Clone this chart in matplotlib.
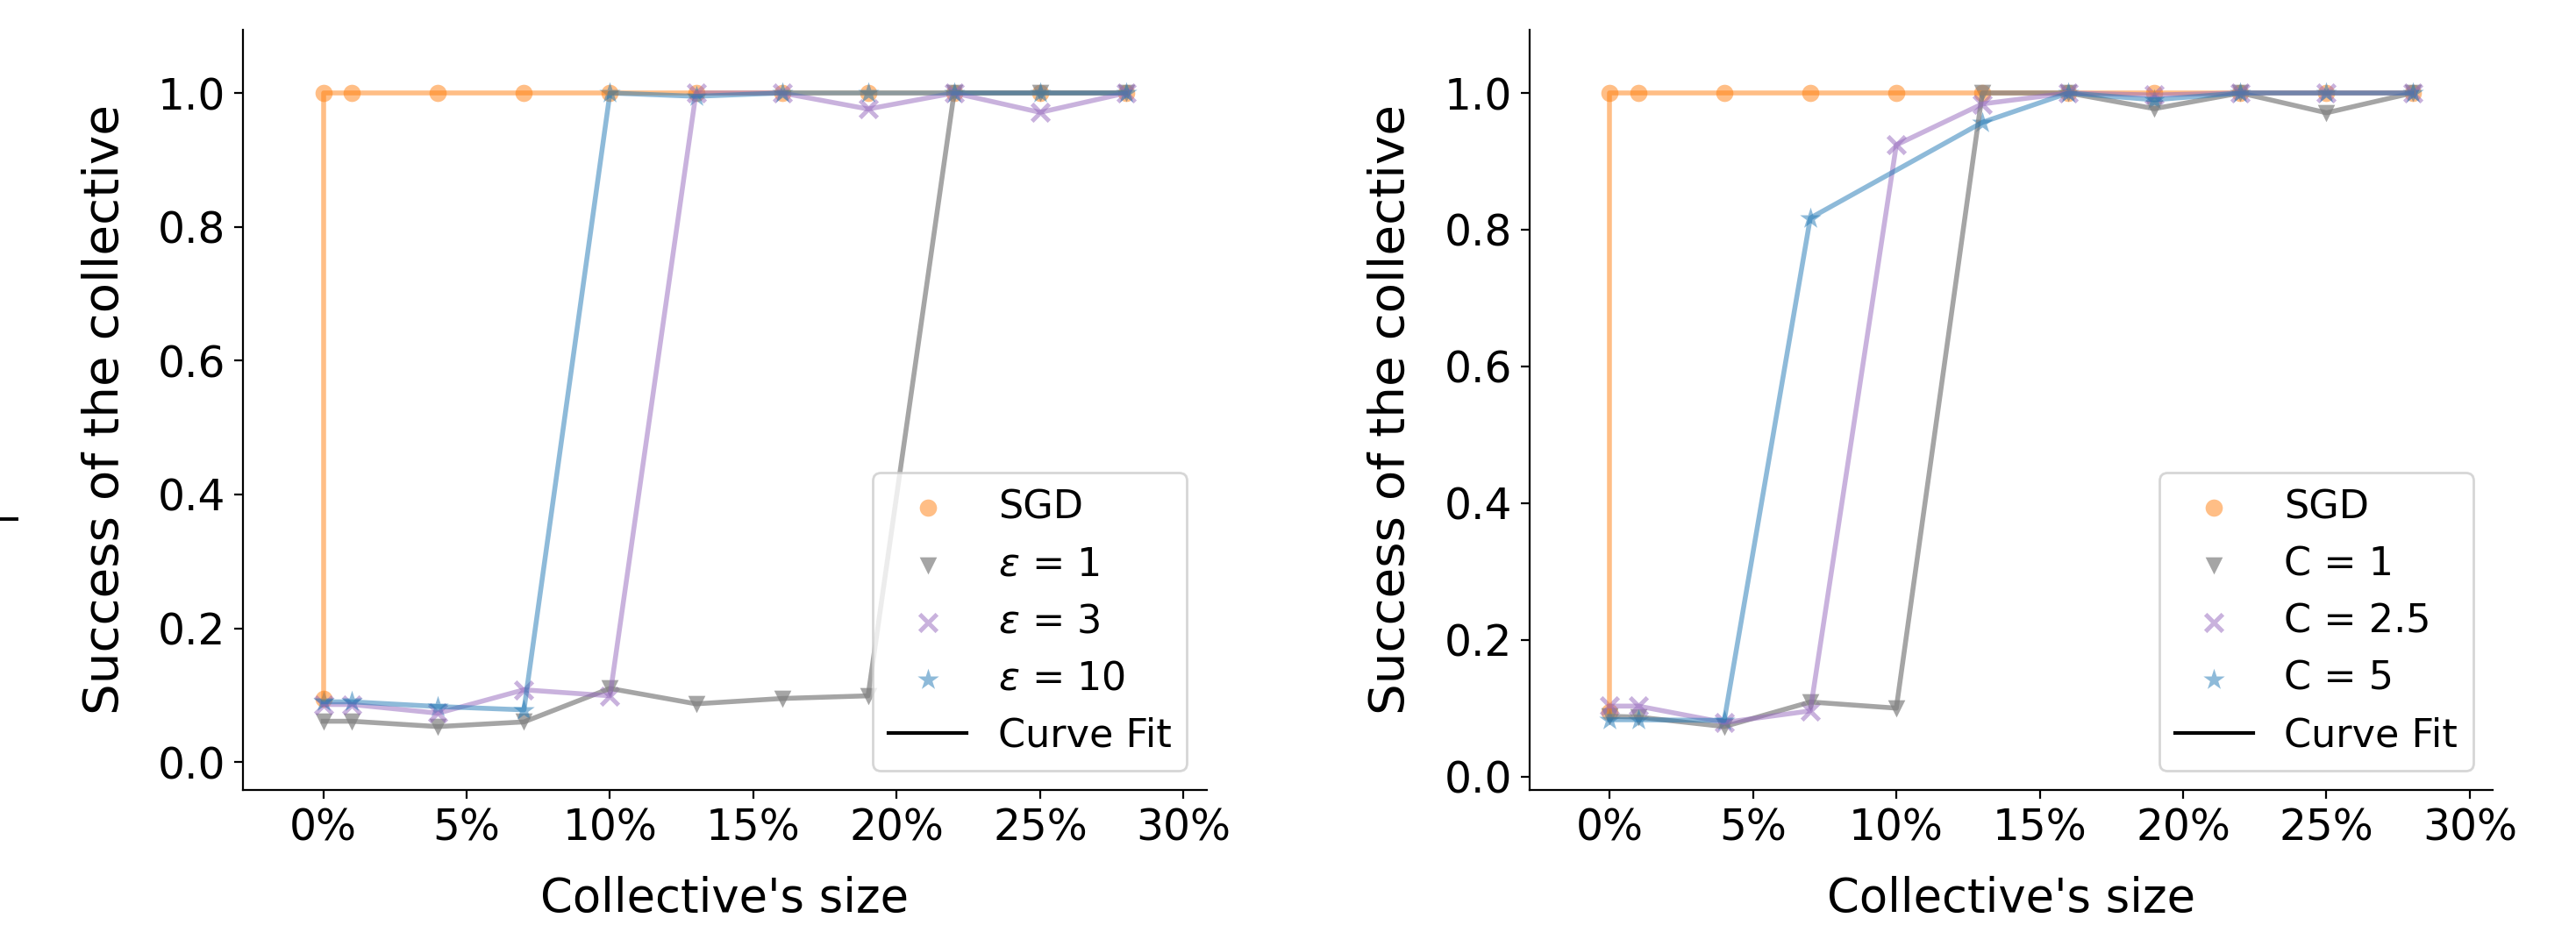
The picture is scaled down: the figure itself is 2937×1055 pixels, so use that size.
import numpy as np
import matplotlib
matplotlib.use("Agg")
import matplotlib.pyplot as plt
from matplotlib.lines import Line2D
from matplotlib.ticker import PercentFormatter

# Collective's size (in %)
sizes = [0, 1, 4, 7, 10, 13, 16, 19, 22, 25, 28]
sgd_sizes = [0, 0, 1, 4, 7, 10, 13, 16, 19, 22, 25, 28]
sgd_success = [0.095, 1.0, 1.0, 1.0, 1.0, 1.0, 1.0, 1.0, 1.0, 1.0, 1.0, 1.0]

# left panel: epsilon
eps_labels = [r'$\varepsilon$ = 1', r'$\varepsilon$ = 3', r'$\varepsilon$ = 10']
eps_1 = [0.061, 0.061, 0.053, 0.060, 0.110, 0.087, 0.095, 0.099, 1.0, 1.0, 1.0]
eps_3 = [0.086, 0.086, 0.073, 0.108, 0.099, 1.0, 1.0, 0.976, 1.0, 0.971, 1.0]
eps_10 = [0.090, 0.090, 0.083, 0.078, 1.0, 0.995, 1.0, 1.0, 1.0, 1.0, 1.0]

# right panel: clipping C
c_labels = ['C = 1', 'C = 2.5', 'C = 5']
c_1 = [0.088, 0.087, 0.073, 0.109, 0.100, 1.0, 1.0, 0.977, 1.0, 0.971, 1.0]
c_2_5 = [0.103, 0.103, 0.079, 0.096, 0.924, 0.984, 1.0, 0.997, 1.0, 1.0, 1.0]
c_5_sizes = [0, 1, 4, 7, 13, 16, 19, 22, 25, 28]
c_5 = [0.083, 0.083, 0.082, 0.817, 0.957, 1.0, 0.990, 1.0, 1.0, 1.0]

x_ticks = [0, 5, 10, 15, 20, 25, 30]

colors = ['tab:gray', 'tab:purple', 'tab:blue']
alphas = [0.7, 0.5, 0.5]
markers = ['v', 'x', '*']
msizes = [50, 50, 85]

TICK_FS = 17.5
XLABEL_FS = 19
YLABEL_FS = 20.3
LEGEND_FS = 16

fig, axes = plt.subplots(1, 2, figsize=(14.685, 5.275), dpi=200)
fig.subplots_adjust(left=0.0943, right=0.9677, bottom=0.146, top=0.968, wspace=0.335)

panels = [
    (axes[0], eps_labels, [(sizes, eps_1), (sizes, eps_3), (sizes, eps_10)]),
    (axes[1], c_labels, [(sizes, c_1), (sizes, c_2_5), (c_5_sizes, c_5)]),
]

for ax, labels, series in panels:
    handles = []
    # SGD baseline
    ax.plot(sgd_sizes, sgd_success, color='tab:orange', alpha=0.5, lw=2.0)
    h = ax.scatter(sgd_sizes, sgd_success, color='tab:orange', alpha=0.5,
                   marker='o', s=50, linewidths=0, label='SGD')
    handles.append(h)
    for (xs, ys), lab, col, a, m, ms in zip(series, labels, colors, alphas, markers, msizes):
        ax.plot(xs, ys, color=col, alpha=a, lw=2.0)
        h = ax.scatter(xs, ys, color=col, alpha=a, marker=m, s=ms,
                       linewidths=1.8 if m == 'x' else 0, label=lab)
        handles.append(h)
    handles.append(Line2D([], [], color='black', lw=1.5, label='Curve Fit'))

    ax.margins(0.1)
    ax.set_xticks(x_ticks)
    ax.xaxis.set_major_formatter(PercentFormatter(xmax=100, decimals=0))
    ax.set_yticks([0.0, 0.2, 0.4, 0.6, 0.8, 1.0])
    ax.tick_params(labelsize=TICK_FS)
    ax.set_xlabel("Collective's size", fontsize=XLABEL_FS, labelpad=11)
    ax.set_ylabel('Success of the collective', fontsize=YLABEL_FS, labelpad=12)
    ax.spines['top'].set_visible(False)
    ax.spines['right'].set_visible(False)
    ax.legend(handles=handles, loc='lower right', fontsize=LEGEND_FS)

# small stray tick at the left border of the figure
fig.add_artist(Line2D([0.0, 0.0066], [0.439, 0.439], transform=fig.transFigure,
                      color='black', lw=1.4))

fig.savefig('out.png', dpi=200)
